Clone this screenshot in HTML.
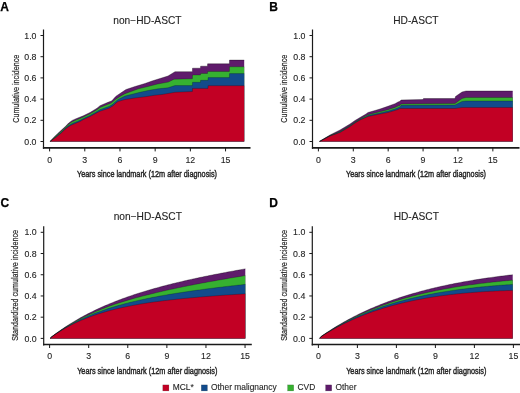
<!DOCTYPE html><html><head><meta charset="utf-8"><style>html,body{margin:0;padding:0;background:#fff;}svg{display:block;will-change:transform;}text{font-family:"Liberation Sans", sans-serif;}.tk{stroke:#333;stroke-width:0.12px;}.lb{stroke:#222;stroke-width:0.42px;}.ly{stroke:#333;stroke-width:0.22px;}.lt{stroke:#000;stroke-width:0.25px;}</style></head><body>
<svg width="520" height="393" viewBox="0 0 520 393">
<rect width="520" height="393" fill="#fff"/>
<path d="M50,141.5 L50,141.5 L54.4,136.8 L58,133.2 L61.5,130 L65.1,126.8 L68.7,123 L72.2,120.4 L76,118.7 L83.3,115.8 L90,112.5 L97,108.2 L100,105.7 L108,102.3 L111.5,101 L113,99.5 L114.5,97.8 L116,96.2 L120,93.5 L126,89.5 L135,86.5 L145,83.5 L152,81 L160,78.5 L168,76 L175,71.7 L192.4,71.7 L192.5,68.2 L200.5,68.2 L200.6,66.2 L207.5,66.2 L207.6,63.8 L229.4,63.8 L229.5,60.1 L244.2,60.1 L244.2,141.5 Z" fill="#5f1b6b"/>
<path d="M50,141.5 L50,141.5 L54.4,137.29 L56,135.84 L58,133.97 L60,132.21 L61.5,130.86 L62.5,129.97 L65,127.66 L65.1,127.58 L67.7,125.06 L68.7,124.16 L71,122.57 L72.2,121.8 L74.6,120.73 L76,120.12 L80,118.52 L83.3,117.02 L90,113.78 L97,109.64 L100,107.46 L108,104.29 L109,103.94 L111.5,102.82 L113,101.52 L115.4,99.4 L120,96.5 L125,93.7 L138.5,88.8 L148,86.5 L157.7,84 L168.3,82.1 L174,79.2 L192.4,78.8 L192.5,75 L200.5,75 L200.6,73.5 L207.5,73.5 L207.6,71.5 L229.4,71.5 L229.5,66.8 L244.2,66.8 L244.2,141.5 Z" fill="#36b130"/>
<path d="M50,141.5 L50,141.5 L54.4,137.91 L56,136.64 L58,134.93 L60,133.26 L61.5,131.93 L62.5,131.05 L65,128.62 L65.1,128.54 L67.7,126.32 L68.7,125.61 L71,124.18 L72.2,123.54 L74.6,122.48 L76,121.89 L80,120.27 L83.3,118.54 L90,115.38 L97,111.44 L100,109.66 L108,106.79 L109,106.44 L111.5,105.1 L113,104.04 L114,103 L118,99.5 L125,96 L140,92.3 L148,90.5 L158,88.8 L168,87.8 L175,85.5 L192.4,85.6 L192.5,82.3 L200.5,82.3 L200.6,80.3 L208,80.3 L208.1,77.6 L229.4,77.6 L229.5,73.6 L244.2,73.6 L244.2,141.5 Z" fill="#124b8b"/>
<path d="M50,141.5 L50,141.5 L56,137.2 L60,134 L62.5,131.8 L65,129.3 L67.7,127.2 L71,125.3 L74.6,123.7 L80,121.5 L83.3,119.6 L90,116.5 L97,112.7 L100,111.2 L109,108.2 L113,105.8 L116,103 L118,101.5 L125,99.5 L135,98 L145,96.8 L155,95.2 L162,94.5 L175,92.3 L192.4,91.5 L192.5,88.4 L208,88.4 L208.1,85.7 L244.2,85.7 L244.2,141.5 Z" fill="#c20024"/>
<path d="M50,141.5 L54.4,136.8 L58,133.2 L61.5,130 L65.1,126.8 L68.7,123 L72.2,120.4 L76,118.7 L83.3,115.8 L90,112.5 L97,108.2 L100,105.7 L108,102.3 L111.5,101 L113,99.5 L114.5,97.8 L116,96.2 L120,93.5 L126,89.5 L135,86.5 L145,83.5 L152,81 L160,78.5 L168,76 L175,71.7 L192.4,71.7 L192.5,68.2 L200.5,68.2 L200.6,66.2 L207.5,66.2 L207.6,63.8 L229.4,63.8 L229.5,60.1 L244.2,60.1" fill="none" stroke="#000" stroke-opacity="0.5" stroke-width="0.65"/>
<path d="M50,141.5 L54.4,137.29 L56,135.84 L58,133.97 L60,132.21 L61.5,130.86 L62.5,129.97 L65,127.66 L65.1,127.58 L67.7,125.06 L68.7,124.16 L71,122.57 L72.2,121.8 L74.6,120.73 L76,120.12 L80,118.52 L83.3,117.02 L90,113.78 L97,109.64 L100,107.46 L108,104.29 L109,103.94 L111.5,102.82 L113,101.52 L115.4,99.4 L120,96.5 L125,93.7 L138.5,88.8 L148,86.5 L157.7,84 L168.3,82.1 L174,79.2 L192.4,78.8 L192.5,75 L200.5,75 L200.6,73.5 L207.5,73.5 L207.6,71.5 L229.4,71.5 L229.5,66.8 L244.2,66.8" fill="none" stroke="#000" stroke-opacity="0.35" stroke-width="0.65"/>
<path d="M50,141.5 L54.4,137.91 L56,136.64 L58,134.93 L60,133.26 L61.5,131.93 L62.5,131.05 L65,128.62 L65.1,128.54 L67.7,126.32 L68.7,125.61 L71,124.18 L72.2,123.54 L74.6,122.48 L76,121.89 L80,120.27 L83.3,118.54 L90,115.38 L97,111.44 L100,109.66 L108,106.79 L109,106.44 L111.5,105.1 L113,104.04 L114,103 L118,99.5 L125,96 L140,92.3 L148,90.5 L158,88.8 L168,87.8 L175,85.5 L192.4,85.6 L192.5,82.3 L200.5,82.3 L200.6,80.3 L208,80.3 L208.1,77.6 L229.4,77.6 L229.5,73.6 L244.2,73.6" fill="none" stroke="#000" stroke-opacity="0.35" stroke-width="0.65"/>
<path d="M50,141.5 L56,137.2 L60,134 L62.5,131.8 L65,129.3 L67.7,127.2 L71,125.3 L74.6,123.7 L80,121.5 L83.3,119.6 L90,116.5 L97,112.7 L100,111.2 L109,108.2 L113,105.8 L116,103 L118,101.5 L125,99.5 L135,98 L145,96.8 L155,95.2 L162,94.5 L175,92.3 L192.4,91.5 L192.5,88.4 L208,88.4 L208.1,85.7 L244.2,85.7" fill="none" stroke="#000" stroke-opacity="0.35" stroke-width="0.65"/>
<path d="M43.5,29.5 V148.8" fill="none" stroke="#1a1a1a" stroke-width="1.2"/>
<path d="M42.9,147.9 H250.5" fill="none" stroke="#1a1a1a" stroke-width="1.8"/>
<path d="M40.5,141.5 H43.5" stroke="#1a1a1a" stroke-width="1"/>
<text class="tk" x="36.5" y="144.6" font-size="8.8" fill="#222" text-anchor="end">0.0</text>
<path d="M40.5,120.3 H43.5" stroke="#1a1a1a" stroke-width="1"/>
<text class="tk" x="36.5" y="123.4" font-size="8.8" fill="#222" text-anchor="end">0.2</text>
<path d="M40.5,99.1 H43.5" stroke="#1a1a1a" stroke-width="1"/>
<text class="tk" x="36.5" y="102.2" font-size="8.8" fill="#222" text-anchor="end">0.4</text>
<path d="M40.5,77.9 H43.5" stroke="#1a1a1a" stroke-width="1"/>
<text class="tk" x="36.5" y="81" font-size="8.8" fill="#222" text-anchor="end">0.6</text>
<path d="M40.5,56.7 H43.5" stroke="#1a1a1a" stroke-width="1"/>
<text class="tk" x="36.5" y="59.8" font-size="8.8" fill="#222" text-anchor="end">0.8</text>
<path d="M40.5,35.5 H43.5" stroke="#1a1a1a" stroke-width="1"/>
<text class="tk" x="36.5" y="38.6" font-size="8.8" fill="#222" text-anchor="end">1.0</text>
<path d="M49.6,147.9 V151.4" stroke="#1a1a1a" stroke-width="1"/>
<text class="tk" x="49.6" y="162.6" font-size="8.8" fill="#222" text-anchor="middle">0</text>
<path d="M84.79,147.9 V151.4" stroke="#1a1a1a" stroke-width="1"/>
<text class="tk" x="84.79" y="162.6" font-size="8.8" fill="#222" text-anchor="middle">3</text>
<path d="M119.98,147.9 V151.4" stroke="#1a1a1a" stroke-width="1"/>
<text class="tk" x="119.98" y="162.6" font-size="8.8" fill="#222" text-anchor="middle">6</text>
<path d="M155.17,147.9 V151.4" stroke="#1a1a1a" stroke-width="1"/>
<text class="tk" x="155.17" y="162.6" font-size="8.8" fill="#222" text-anchor="middle">9</text>
<path d="M190.36,147.9 V151.4" stroke="#1a1a1a" stroke-width="1"/>
<text class="tk" x="190.36" y="162.6" font-size="8.8" fill="#222" text-anchor="middle">12</text>
<path d="M225.55,147.9 V151.4" stroke="#1a1a1a" stroke-width="1"/>
<text class="tk" x="225.55" y="162.6" font-size="8.8" fill="#222" text-anchor="middle">15</text>
<text class="tk" x="147.4" y="23.6" font-size="10.2" fill="#222" text-anchor="middle">non−HD-ASCT</text>
<text class="lt" x="0.3" y="10.6" font-size="12" font-weight="bold" fill="#000">A</text>
<text x="147" y="176.8" font-size="9.8" fill="#222" class="lb" text-anchor="middle" textLength="140" lengthAdjust="spacingAndGlyphs">Years since landmark (12m after diagnosis)</text>
<text transform="translate(18.6,88.75) rotate(-90)" x="0" y="0" font-size="9.8" fill="#222" class="ly" text-anchor="middle" textLength="68" lengthAdjust="spacingAndGlyphs">Cumulative incidence</text>
<path d="M319.3,141.5 L319.3,141.5 L322,139.8 L330,135 L340,130 L350,124 L355,120.5 L360,117.5 L366,114 L368,112.5 L375,110.5 L380,109 L385,107.3 L390,105.5 L395,103.7 L398,102 L400,101.2 L401,100 L423,99.5 L423.5,98.5 L455,98.5 L455.5,96.5 L462,92 L466,91 L512.7,91 L512.7,141.5 Z" fill="#5f1b6b"/>
<path d="M319.3,141.5 L319.3,141.5 L322,140.02 L330,135.55 L340,131.38 L350,125.38 L355,121.88 L360,118.88 L366,115.86 L368,114.7 L375,113 L380,111.75 L385,110.47 L388,109.67 L390,109.02 L395,107.39 L398,106.12 L400,105.22 L401,104 L455,103.5 L462,98.5 L466,97.5 L512.7,97.5 L512.7,141.5 Z" fill="#36b130"/>
<path d="M319.3,141.5 L319.3,141.5 L322,140.11 L330,135.78 L340,131.95 L350,125.95 L355,122.45 L360,119.45 L366,116.63 L368,115.62 L375,114.04 L380,112.9 L385,111.79 L388,111.12 L390,110.49 L395,108.93 L398,107.85 L400,106.89 L401,105.3 L455,105 L462,101.5 L466,101 L512.7,101 L512.7,141.5 Z" fill="#124b8b"/>
<path d="M319.3,141.5 L319.3,141.5 L322,140.2 L330,136 L340,132.5 L350,126.5 L355,123 L360,120 L368,116.5 L380,114 L388,112.5 L398,109.5 L400,108.5 L455,108.5 L462,107.5 L512.7,107.5 L512.7,141.5 Z" fill="#c20024"/>
<path d="M319.3,141.5 L322,139.8 L330,135 L340,130 L350,124 L355,120.5 L360,117.5 L366,114 L368,112.5 L375,110.5 L380,109 L385,107.3 L390,105.5 L395,103.7 L398,102 L400,101.2 L401,100 L423,99.5 L423.5,98.5 L455,98.5 L455.5,96.5 L462,92 L466,91 L512.7,91" fill="none" stroke="#000" stroke-opacity="0.5" stroke-width="0.65"/>
<path d="M319.3,141.5 L322,140.02 L330,135.55 L340,131.38 L350,125.38 L355,121.88 L360,118.88 L366,115.86 L368,114.7 L375,113 L380,111.75 L385,110.47 L388,109.67 L390,109.02 L395,107.39 L398,106.12 L400,105.22 L401,104 L455,103.5 L462,98.5 L466,97.5 L512.7,97.5" fill="none" stroke="#000" stroke-opacity="0.35" stroke-width="0.65"/>
<path d="M319.3,141.5 L322,140.11 L330,135.78 L340,131.95 L350,125.95 L355,122.45 L360,119.45 L366,116.63 L368,115.62 L375,114.04 L380,112.9 L385,111.79 L388,111.12 L390,110.49 L395,108.93 L398,107.85 L400,106.89 L401,105.3 L455,105 L462,101.5 L466,101 L512.7,101" fill="none" stroke="#000" stroke-opacity="0.35" stroke-width="0.65"/>
<path d="M319.3,141.5 L322,140.2 L330,136 L340,132.5 L350,126.5 L355,123 L360,120 L368,116.5 L380,114 L388,112.5 L398,109.5 L400,108.5 L455,108.5 L462,107.5 L512.7,107.5" fill="none" stroke="#000" stroke-opacity="0.35" stroke-width="0.65"/>
<path d="M312.5,29.5 V148.8" fill="none" stroke="#1a1a1a" stroke-width="1.2"/>
<path d="M311.9,147.9 H519.5" fill="none" stroke="#1a1a1a" stroke-width="1.8"/>
<path d="M309.5,141.5 H312.5" stroke="#1a1a1a" stroke-width="1"/>
<text class="tk" x="305.5" y="144.6" font-size="8.8" fill="#222" text-anchor="end">0.0</text>
<path d="M309.5,120.3 H312.5" stroke="#1a1a1a" stroke-width="1"/>
<text class="tk" x="305.5" y="123.4" font-size="8.8" fill="#222" text-anchor="end">0.2</text>
<path d="M309.5,99.1 H312.5" stroke="#1a1a1a" stroke-width="1"/>
<text class="tk" x="305.5" y="102.2" font-size="8.8" fill="#222" text-anchor="end">0.4</text>
<path d="M309.5,77.9 H312.5" stroke="#1a1a1a" stroke-width="1"/>
<text class="tk" x="305.5" y="81" font-size="8.8" fill="#222" text-anchor="end">0.6</text>
<path d="M309.5,56.7 H312.5" stroke="#1a1a1a" stroke-width="1"/>
<text class="tk" x="305.5" y="59.8" font-size="8.8" fill="#222" text-anchor="end">0.8</text>
<path d="M309.5,35.5 H312.5" stroke="#1a1a1a" stroke-width="1"/>
<text class="tk" x="305.5" y="38.6" font-size="8.8" fill="#222" text-anchor="end">1.0</text>
<path d="M318.4,147.9 V151.4" stroke="#1a1a1a" stroke-width="1"/>
<text class="tk" x="318.4" y="162.6" font-size="8.8" fill="#222" text-anchor="middle">0</text>
<path d="M353.29,147.9 V151.4" stroke="#1a1a1a" stroke-width="1"/>
<text class="tk" x="353.29" y="162.6" font-size="8.8" fill="#222" text-anchor="middle">3</text>
<path d="M388.18,147.9 V151.4" stroke="#1a1a1a" stroke-width="1"/>
<text class="tk" x="388.18" y="162.6" font-size="8.8" fill="#222" text-anchor="middle">6</text>
<path d="M423.07,147.9 V151.4" stroke="#1a1a1a" stroke-width="1"/>
<text class="tk" x="423.07" y="162.6" font-size="8.8" fill="#222" text-anchor="middle">9</text>
<path d="M457.96,147.9 V151.4" stroke="#1a1a1a" stroke-width="1"/>
<text class="tk" x="457.96" y="162.6" font-size="8.8" fill="#222" text-anchor="middle">12</text>
<path d="M492.85,147.9 V151.4" stroke="#1a1a1a" stroke-width="1"/>
<text class="tk" x="492.85" y="162.6" font-size="8.8" fill="#222" text-anchor="middle">15</text>
<text class="tk" x="415.9" y="23.8" font-size="10.2" fill="#222" text-anchor="middle">HD-ASCT</text>
<text class="lt" x="269.2" y="10.5" font-size="12" font-weight="bold" fill="#000">B</text>
<text x="416" y="176.8" font-size="9.8" fill="#222" class="lb" text-anchor="middle" textLength="140" lengthAdjust="spacingAndGlyphs">Years since landmark (12m after diagnosis)</text>
<text transform="translate(287.1,88.75) rotate(-90)" x="0" y="0" font-size="9.8" fill="#222" class="ly" text-anchor="middle" textLength="68" lengthAdjust="spacingAndGlyphs">Cumulative incidence</text>
<path d="M50,338.4 L50,338.4 L51.64,336.8 L53.28,335.53 L54.92,334.3 L56.56,333.08 L58.21,331.89 L59.85,330.72 L61.49,329.58 L63.13,328.45 L64.77,327.35 L66.41,326.27 L68.05,325.2 L69.69,324.16 L71.34,323.14 L72.98,322.13 L74.62,321.15 L76.26,320.18 L77.9,319.23 L79.54,318.29 L81.18,317.37 L82.82,316.47 L84.46,315.59 L86.11,314.71 L87.75,313.86 L89.39,313.02 L91.03,312.19 L92.67,311.38 L94.31,310.58 L95.95,309.8 L97.59,309.03 L99.24,308.27 L100.88,307.52 L102.52,306.79 L104.16,306.07 L105.8,305.36 L107.44,304.66 L109.08,303.97 L110.72,303.29 L112.36,302.63 L114.01,301.97 L115.65,301.33 L117.29,300.69 L118.93,300.06 L120.57,299.45 L122.21,298.84 L123.85,298.24 L125.49,297.65 L127.14,297.07 L128.78,296.5 L130.42,295.94 L132.06,295.38 L133.7,294.83 L135.34,294.29 L136.98,293.76 L138.62,293.23 L140.26,292.71 L141.91,292.2 L143.55,291.69 L145.19,291.2 L146.83,290.7 L148.47,290.22 L150.11,289.74 L151.75,289.26 L153.39,288.8 L155.04,288.34 L156.68,287.88 L158.32,287.43 L159.96,286.98 L161.6,286.54 L163.24,286.11 L164.88,285.68 L166.52,285.25 L168.16,284.83 L169.81,284.42 L171.45,284 L173.09,283.6 L174.73,283.2 L176.37,282.8 L178.01,282.4 L179.65,282.01 L181.29,281.63 L182.94,281.25 L184.58,280.87 L186.22,280.49 L187.86,280.12 L189.5,279.75 L191.14,279.39 L192.78,279.03 L194.42,278.67 L196.06,278.32 L197.71,277.97 L199.35,277.62 L200.99,277.27 L202.63,276.93 L204.27,276.59 L205.91,276.25 L207.55,275.92 L209.19,275.59 L210.84,275.26 L212.48,274.93 L214.12,274.61 L215.76,274.29 L217.4,273.97 L219.04,273.65 L220.68,273.34 L222.32,273.02 L223.96,272.71 L225.61,272.41 L227.25,272.1 L228.89,271.8 L230.53,271.49 L232.17,271.19 L233.81,270.9 L235.45,270.6 L237.09,270.3 L238.74,270.01 L240.38,269.72 L242.02,269.43 L243.66,269.14 L245.3,268.86 L245.3,338.4 Z" fill="#5f1b6b"/>
<path d="M50,338.4 L50,338.4 L51.64,336.83 L53.28,335.6 L54.92,334.4 L56.56,333.23 L58.21,332.08 L59.85,330.96 L61.49,329.86 L63.13,328.79 L64.77,327.74 L66.41,326.71 L68.05,325.71 L69.69,324.73 L71.34,323.76 L72.98,322.82 L74.62,321.9 L76.26,321 L77.9,320.12 L79.54,319.25 L81.18,318.41 L82.82,317.58 L84.46,316.77 L86.11,315.97 L87.75,315.19 L89.39,314.43 L91.03,313.68 L92.67,312.95 L94.31,312.23 L95.95,311.52 L97.59,310.83 L99.24,310.16 L100.88,309.49 L102.52,308.84 L104.16,308.2 L105.8,307.58 L107.44,306.96 L109.08,306.36 L110.72,305.76 L112.36,305.18 L114.01,304.61 L115.65,304.05 L117.29,303.5 L118.93,302.96 L120.57,302.43 L122.21,301.9 L123.85,301.39 L125.49,300.89 L127.14,300.39 L128.78,299.9 L130.42,299.42 L132.06,298.95 L133.7,298.49 L135.34,298.03 L136.98,297.58 L138.62,297.14 L140.26,296.7 L141.91,296.28 L143.55,295.85 L145.19,295.44 L146.83,295.03 L148.47,294.63 L150.11,294.23 L151.75,293.82 L153.39,293.41 L155.04,293.01 L156.68,292.62 L158.32,292.23 L159.96,291.84 L161.6,291.46 L163.24,291.08 L164.88,290.71 L166.52,290.34 L168.16,289.98 L169.81,289.61 L171.45,289.26 L173.09,288.9 L174.73,288.55 L176.37,288.2 L178.01,287.86 L179.65,287.52 L181.29,287.18 L182.94,286.84 L184.58,286.51 L186.22,286.18 L187.86,285.85 L189.5,285.53 L191.14,285.2 L192.78,284.88 L194.42,284.57 L196.06,284.25 L197.71,283.94 L199.35,283.63 L200.99,283.32 L202.63,283.01 L204.27,282.71 L205.91,282.41 L207.55,282.11 L209.19,281.81 L210.84,281.51 L212.48,281.22 L214.12,280.92 L215.76,280.63 L217.4,280.34 L219.04,280.05 L220.68,279.76 L222.32,279.48 L223.96,279.19 L225.61,278.91 L227.25,278.63 L228.89,278.34 L230.53,278.07 L232.17,277.79 L233.81,277.51 L235.45,277.23 L237.09,276.96 L238.74,276.68 L240.38,276.41 L242.02,276.14 L243.66,275.87 L245.3,275.6 L245.3,338.4 Z" fill="#36b130"/>
<path d="M50,338.4 L50,338.4 L51.64,336.86 L53.28,335.66 L54.92,334.49 L56.56,333.35 L58.21,332.24 L59.85,331.16 L61.49,330.1 L63.13,329.07 L64.77,328.06 L66.41,327.08 L68.05,326.13 L69.69,325.19 L71.34,324.28 L72.98,323.4 L74.62,322.53 L76.26,321.68 L77.9,320.86 L79.54,320.05 L81.18,319.26 L82.82,318.5 L84.46,317.75 L86.11,317.01 L87.75,316.3 L89.39,315.6 L91.03,314.91 L92.67,314.25 L94.31,313.59 L95.95,312.96 L97.59,312.33 L99.24,311.72 L100.88,311.13 L102.52,310.54 L104.16,309.97 L105.8,309.41 L107.44,308.87 L109.08,308.33 L110.72,307.81 L112.36,307.3 L114.01,306.8 L115.65,306.31 L117.29,305.83 L118.93,305.35 L120.57,304.89 L122.21,304.44 L123.85,304 L125.49,303.56 L127.14,303.14 L128.78,302.72 L130.42,302.31 L132.06,301.91 L133.7,301.52 L135.34,301.13 L136.98,300.75 L138.62,300.38 L140.26,300.01 L141.91,299.65 L143.55,299.3 L145.19,298.95 L146.83,298.61 L148.47,298.28 L150.11,297.95 L151.75,297.62 L153.39,297.3 L155.04,296.98 L156.68,296.67 L158.32,296.36 L159.96,296.06 L161.6,295.76 L163.24,295.47 L164.88,295.18 L166.52,294.89 L168.16,294.61 L169.81,294.33 L171.45,294.06 L173.09,293.79 L174.73,293.52 L176.37,293.26 L178.01,293 L179.65,292.74 L181.29,292.49 L182.94,292.24 L184.58,291.99 L186.22,291.75 L187.86,291.5 L189.5,291.27 L191.14,291.03 L192.78,290.8 L194.42,290.57 L196.06,290.34 L197.71,290.11 L199.35,289.89 L200.99,289.67 L202.63,289.45 L204.27,289.23 L205.91,289.02 L207.55,288.8 L209.19,288.59 L210.84,288.38 L212.48,288.18 L214.12,287.97 L215.76,287.77 L217.4,287.56 L219.04,287.36 L220.68,287.16 L222.32,286.97 L223.96,286.77 L225.61,286.58 L227.25,286.38 L228.89,286.19 L230.53,286 L232.17,285.81 L233.81,285.63 L235.45,285.44 L237.09,285.25 L238.74,285.07 L240.38,284.89 L242.02,284.7 L243.66,284.52 L245.3,284.35 L245.3,338.4 Z" fill="#124b8b"/>
<path d="M50,338.4 L50,338.4 L51.64,336.9 L53.28,335.74 L54.92,334.6 L56.56,333.5 L58.21,332.44 L59.85,331.4 L61.49,330.39 L63.13,329.41 L64.77,328.46 L66.41,327.54 L68.05,326.65 L69.69,325.77 L71.34,324.93 L72.98,324.11 L74.62,323.31 L76.26,322.53 L77.9,321.77 L79.54,321.04 L81.18,320.33 L82.82,319.63 L84.46,318.96 L86.11,318.3 L87.75,317.67 L89.39,317.05 L91.03,316.44 L92.67,315.86 L94.31,315.29 L95.95,314.73 L97.59,314.19 L99.24,313.66 L100.88,313.15 L102.52,312.65 L104.16,312.17 L105.8,311.7 L107.44,311.24 L109.08,310.79 L110.72,310.35 L112.36,309.93 L114.01,309.51 L115.65,309.11 L117.29,308.71 L118.93,308.33 L120.57,307.96 L122.21,307.59 L123.85,307.24 L125.49,306.89 L127.14,306.55 L128.78,306.22 L130.42,305.9 L132.06,305.58 L133.7,305.28 L135.34,304.98 L136.98,304.68 L138.62,304.4 L140.26,304.12 L141.91,303.84 L143.55,303.58 L145.19,303.32 L146.83,303.06 L148.47,302.81 L150.11,302.57 L151.75,302.33 L153.39,302.1 L155.04,301.87 L156.68,301.64 L158.32,301.42 L159.96,301.21 L161.6,301 L163.24,300.79 L164.88,300.59 L166.52,300.39 L168.16,300.2 L169.81,300.01 L171.45,299.82 L173.09,299.64 L174.73,299.46 L176.37,299.28 L178.01,299.11 L179.65,298.94 L181.29,298.77 L182.94,298.61 L184.58,298.45 L186.22,298.29 L187.86,298.13 L189.5,297.98 L191.14,297.83 L192.78,297.68 L194.42,297.53 L196.06,297.39 L197.71,297.25 L199.35,297.11 L200.99,296.97 L202.63,296.83 L204.27,296.7 L205.91,296.57 L207.55,296.44 L209.19,296.31 L210.84,296.18 L212.48,296.06 L214.12,295.94 L215.76,295.81 L217.4,295.69 L219.04,295.57 L220.68,295.46 L222.32,295.34 L223.96,295.23 L225.61,295.11 L227.25,295 L228.89,294.89 L230.53,294.78 L232.17,294.67 L233.81,294.56 L235.45,294.46 L237.09,294.35 L238.74,294.25 L240.38,294.14 L242.02,294.04 L243.66,293.94 L245.3,293.84 L245.3,338.4 Z" fill="#c20024"/>
<path d="M50,338.4 L51.64,336.8 L53.28,335.53 L54.92,334.3 L56.56,333.08 L58.21,331.89 L59.85,330.72 L61.49,329.58 L63.13,328.45 L64.77,327.35 L66.41,326.27 L68.05,325.2 L69.69,324.16 L71.34,323.14 L72.98,322.13 L74.62,321.15 L76.26,320.18 L77.9,319.23 L79.54,318.29 L81.18,317.37 L82.82,316.47 L84.46,315.59 L86.11,314.71 L87.75,313.86 L89.39,313.02 L91.03,312.19 L92.67,311.38 L94.31,310.58 L95.95,309.8 L97.59,309.03 L99.24,308.27 L100.88,307.52 L102.52,306.79 L104.16,306.07 L105.8,305.36 L107.44,304.66 L109.08,303.97 L110.72,303.29 L112.36,302.63 L114.01,301.97 L115.65,301.33 L117.29,300.69 L118.93,300.06 L120.57,299.45 L122.21,298.84 L123.85,298.24 L125.49,297.65 L127.14,297.07 L128.78,296.5 L130.42,295.94 L132.06,295.38 L133.7,294.83 L135.34,294.29 L136.98,293.76 L138.62,293.23 L140.26,292.71 L141.91,292.2 L143.55,291.69 L145.19,291.2 L146.83,290.7 L148.47,290.22 L150.11,289.74 L151.75,289.26 L153.39,288.8 L155.04,288.34 L156.68,287.88 L158.32,287.43 L159.96,286.98 L161.6,286.54 L163.24,286.11 L164.88,285.68 L166.52,285.25 L168.16,284.83 L169.81,284.42 L171.45,284 L173.09,283.6 L174.73,283.2 L176.37,282.8 L178.01,282.4 L179.65,282.01 L181.29,281.63 L182.94,281.25 L184.58,280.87 L186.22,280.49 L187.86,280.12 L189.5,279.75 L191.14,279.39 L192.78,279.03 L194.42,278.67 L196.06,278.32 L197.71,277.97 L199.35,277.62 L200.99,277.27 L202.63,276.93 L204.27,276.59 L205.91,276.25 L207.55,275.92 L209.19,275.59 L210.84,275.26 L212.48,274.93 L214.12,274.61 L215.76,274.29 L217.4,273.97 L219.04,273.65 L220.68,273.34 L222.32,273.02 L223.96,272.71 L225.61,272.41 L227.25,272.1 L228.89,271.8 L230.53,271.49 L232.17,271.19 L233.81,270.9 L235.45,270.6 L237.09,270.3 L238.74,270.01 L240.38,269.72 L242.02,269.43 L243.66,269.14 L245.3,268.86" fill="none" stroke="#000" stroke-opacity="0.5" stroke-width="0.65"/>
<path d="M50,338.4 L51.64,336.83 L53.28,335.6 L54.92,334.4 L56.56,333.23 L58.21,332.08 L59.85,330.96 L61.49,329.86 L63.13,328.79 L64.77,327.74 L66.41,326.71 L68.05,325.71 L69.69,324.73 L71.34,323.76 L72.98,322.82 L74.62,321.9 L76.26,321 L77.9,320.12 L79.54,319.25 L81.18,318.41 L82.82,317.58 L84.46,316.77 L86.11,315.97 L87.75,315.19 L89.39,314.43 L91.03,313.68 L92.67,312.95 L94.31,312.23 L95.95,311.52 L97.59,310.83 L99.24,310.16 L100.88,309.49 L102.52,308.84 L104.16,308.2 L105.8,307.58 L107.44,306.96 L109.08,306.36 L110.72,305.76 L112.36,305.18 L114.01,304.61 L115.65,304.05 L117.29,303.5 L118.93,302.96 L120.57,302.43 L122.21,301.9 L123.85,301.39 L125.49,300.89 L127.14,300.39 L128.78,299.9 L130.42,299.42 L132.06,298.95 L133.7,298.49 L135.34,298.03 L136.98,297.58 L138.62,297.14 L140.26,296.7 L141.91,296.28 L143.55,295.85 L145.19,295.44 L146.83,295.03 L148.47,294.63 L150.11,294.23 L151.75,293.82 L153.39,293.41 L155.04,293.01 L156.68,292.62 L158.32,292.23 L159.96,291.84 L161.6,291.46 L163.24,291.08 L164.88,290.71 L166.52,290.34 L168.16,289.98 L169.81,289.61 L171.45,289.26 L173.09,288.9 L174.73,288.55 L176.37,288.2 L178.01,287.86 L179.65,287.52 L181.29,287.18 L182.94,286.84 L184.58,286.51 L186.22,286.18 L187.86,285.85 L189.5,285.53 L191.14,285.2 L192.78,284.88 L194.42,284.57 L196.06,284.25 L197.71,283.94 L199.35,283.63 L200.99,283.32 L202.63,283.01 L204.27,282.71 L205.91,282.41 L207.55,282.11 L209.19,281.81 L210.84,281.51 L212.48,281.22 L214.12,280.92 L215.76,280.63 L217.4,280.34 L219.04,280.05 L220.68,279.76 L222.32,279.48 L223.96,279.19 L225.61,278.91 L227.25,278.63 L228.89,278.34 L230.53,278.07 L232.17,277.79 L233.81,277.51 L235.45,277.23 L237.09,276.96 L238.74,276.68 L240.38,276.41 L242.02,276.14 L243.66,275.87 L245.3,275.6" fill="none" stroke="#000" stroke-opacity="0.35" stroke-width="0.65"/>
<path d="M50,338.4 L51.64,336.86 L53.28,335.66 L54.92,334.49 L56.56,333.35 L58.21,332.24 L59.85,331.16 L61.49,330.1 L63.13,329.07 L64.77,328.06 L66.41,327.08 L68.05,326.13 L69.69,325.19 L71.34,324.28 L72.98,323.4 L74.62,322.53 L76.26,321.68 L77.9,320.86 L79.54,320.05 L81.18,319.26 L82.82,318.5 L84.46,317.75 L86.11,317.01 L87.75,316.3 L89.39,315.6 L91.03,314.91 L92.67,314.25 L94.31,313.59 L95.95,312.96 L97.59,312.33 L99.24,311.72 L100.88,311.13 L102.52,310.54 L104.16,309.97 L105.8,309.41 L107.44,308.87 L109.08,308.33 L110.72,307.81 L112.36,307.3 L114.01,306.8 L115.65,306.31 L117.29,305.83 L118.93,305.35 L120.57,304.89 L122.21,304.44 L123.85,304 L125.49,303.56 L127.14,303.14 L128.78,302.72 L130.42,302.31 L132.06,301.91 L133.7,301.52 L135.34,301.13 L136.98,300.75 L138.62,300.38 L140.26,300.01 L141.91,299.65 L143.55,299.3 L145.19,298.95 L146.83,298.61 L148.47,298.28 L150.11,297.95 L151.75,297.62 L153.39,297.3 L155.04,296.98 L156.68,296.67 L158.32,296.36 L159.96,296.06 L161.6,295.76 L163.24,295.47 L164.88,295.18 L166.52,294.89 L168.16,294.61 L169.81,294.33 L171.45,294.06 L173.09,293.79 L174.73,293.52 L176.37,293.26 L178.01,293 L179.65,292.74 L181.29,292.49 L182.94,292.24 L184.58,291.99 L186.22,291.75 L187.86,291.5 L189.5,291.27 L191.14,291.03 L192.78,290.8 L194.42,290.57 L196.06,290.34 L197.71,290.11 L199.35,289.89 L200.99,289.67 L202.63,289.45 L204.27,289.23 L205.91,289.02 L207.55,288.8 L209.19,288.59 L210.84,288.38 L212.48,288.18 L214.12,287.97 L215.76,287.77 L217.4,287.56 L219.04,287.36 L220.68,287.16 L222.32,286.97 L223.96,286.77 L225.61,286.58 L227.25,286.38 L228.89,286.19 L230.53,286 L232.17,285.81 L233.81,285.63 L235.45,285.44 L237.09,285.25 L238.74,285.07 L240.38,284.89 L242.02,284.7 L243.66,284.52 L245.3,284.35" fill="none" stroke="#000" stroke-opacity="0.35" stroke-width="0.65"/>
<path d="M50,338.4 L51.64,336.9 L53.28,335.74 L54.92,334.6 L56.56,333.5 L58.21,332.44 L59.85,331.4 L61.49,330.39 L63.13,329.41 L64.77,328.46 L66.41,327.54 L68.05,326.65 L69.69,325.77 L71.34,324.93 L72.98,324.11 L74.62,323.31 L76.26,322.53 L77.9,321.77 L79.54,321.04 L81.18,320.33 L82.82,319.63 L84.46,318.96 L86.11,318.3 L87.75,317.67 L89.39,317.05 L91.03,316.44 L92.67,315.86 L94.31,315.29 L95.95,314.73 L97.59,314.19 L99.24,313.66 L100.88,313.15 L102.52,312.65 L104.16,312.17 L105.8,311.7 L107.44,311.24 L109.08,310.79 L110.72,310.35 L112.36,309.93 L114.01,309.51 L115.65,309.11 L117.29,308.71 L118.93,308.33 L120.57,307.96 L122.21,307.59 L123.85,307.24 L125.49,306.89 L127.14,306.55 L128.78,306.22 L130.42,305.9 L132.06,305.58 L133.7,305.28 L135.34,304.98 L136.98,304.68 L138.62,304.4 L140.26,304.12 L141.91,303.84 L143.55,303.58 L145.19,303.32 L146.83,303.06 L148.47,302.81 L150.11,302.57 L151.75,302.33 L153.39,302.1 L155.04,301.87 L156.68,301.64 L158.32,301.42 L159.96,301.21 L161.6,301 L163.24,300.79 L164.88,300.59 L166.52,300.39 L168.16,300.2 L169.81,300.01 L171.45,299.82 L173.09,299.64 L174.73,299.46 L176.37,299.28 L178.01,299.11 L179.65,298.94 L181.29,298.77 L182.94,298.61 L184.58,298.45 L186.22,298.29 L187.86,298.13 L189.5,297.98 L191.14,297.83 L192.78,297.68 L194.42,297.53 L196.06,297.39 L197.71,297.25 L199.35,297.11 L200.99,296.97 L202.63,296.83 L204.27,296.7 L205.91,296.57 L207.55,296.44 L209.19,296.31 L210.84,296.18 L212.48,296.06 L214.12,295.94 L215.76,295.81 L217.4,295.69 L219.04,295.57 L220.68,295.46 L222.32,295.34 L223.96,295.23 L225.61,295.11 L227.25,295 L228.89,294.89 L230.53,294.78 L232.17,294.67 L233.81,294.56 L235.45,294.46 L237.09,294.35 L238.74,294.25 L240.38,294.14 L242.02,294.04 L243.66,293.94 L245.3,293.84" fill="none" stroke="#000" stroke-opacity="0.35" stroke-width="0.65"/>
<path d="M43.7,226.2 V345.4" fill="none" stroke="#1a1a1a" stroke-width="1.2"/>
<path d="M43.1,344.5 H251.8" fill="none" stroke="#1a1a1a" stroke-width="1.3"/>
<path d="M40.7,338.4 H43.7" stroke="#1a1a1a" stroke-width="1"/>
<text class="tk" x="36.7" y="341.5" font-size="8.8" fill="#222" text-anchor="end">0.0</text>
<path d="M40.7,317.18 H43.7" stroke="#1a1a1a" stroke-width="1"/>
<text class="tk" x="36.7" y="320.28" font-size="8.8" fill="#222" text-anchor="end">0.2</text>
<path d="M40.7,295.96 H43.7" stroke="#1a1a1a" stroke-width="1"/>
<text class="tk" x="36.7" y="299.06" font-size="8.8" fill="#222" text-anchor="end">0.4</text>
<path d="M40.7,274.74 H43.7" stroke="#1a1a1a" stroke-width="1"/>
<text class="tk" x="36.7" y="277.84" font-size="8.8" fill="#222" text-anchor="end">0.6</text>
<path d="M40.7,253.52 H43.7" stroke="#1a1a1a" stroke-width="1"/>
<text class="tk" x="36.7" y="256.62" font-size="8.8" fill="#222" text-anchor="end">0.8</text>
<path d="M40.7,232.3 H43.7" stroke="#1a1a1a" stroke-width="1"/>
<text class="tk" x="36.7" y="235.4" font-size="8.8" fill="#222" text-anchor="end">1.0</text>
<path d="M49.6,344.5 V348" stroke="#1a1a1a" stroke-width="1"/>
<text class="tk" x="49.6" y="359" font-size="8.8" fill="#222" text-anchor="middle">0</text>
<path d="M88.69,344.5 V348" stroke="#1a1a1a" stroke-width="1"/>
<text class="tk" x="88.69" y="359" font-size="8.8" fill="#222" text-anchor="middle">3</text>
<path d="M127.78,344.5 V348" stroke="#1a1a1a" stroke-width="1"/>
<text class="tk" x="127.78" y="359" font-size="8.8" fill="#222" text-anchor="middle">6</text>
<path d="M166.87,344.5 V348" stroke="#1a1a1a" stroke-width="1"/>
<text class="tk" x="166.87" y="359" font-size="8.8" fill="#222" text-anchor="middle">9</text>
<path d="M205.96,344.5 V348" stroke="#1a1a1a" stroke-width="1"/>
<text class="tk" x="205.96" y="359" font-size="8.8" fill="#222" text-anchor="middle">12</text>
<path d="M245.05,344.5 V348" stroke="#1a1a1a" stroke-width="1"/>
<text class="tk" x="245.05" y="359" font-size="8.8" fill="#222" text-anchor="middle">15</text>
<text class="tk" x="147.8" y="219.9" font-size="10.2" fill="#222" text-anchor="middle">non−HD-ASCT</text>
<text class="lt" x="0.5" y="207.2" font-size="12" font-weight="bold" fill="#000">C</text>
<text x="147.3" y="373.5" font-size="9.8" fill="#222" class="lb" text-anchor="middle" textLength="140.3" lengthAdjust="spacingAndGlyphs">Years since landmark (12m after diagnosis)</text>
<text transform="translate(18.4,285.4) rotate(-90)" x="0" y="0" font-size="9.8" fill="#222" class="ly" text-anchor="middle" textLength="110.7" lengthAdjust="spacingAndGlyphs">Standardized cumulative incidence</text>
<path d="M319.5,338.4 L319.5,338.4 L321.12,336.45 L322.75,335.31 L324.37,334.19 L325.99,333.09 L327.62,332.01 L329.24,330.94 L330.86,329.89 L332.49,328.86 L334.11,327.84 L335.74,326.84 L337.36,325.85 L338.98,324.88 L340.61,323.92 L342.23,322.98 L343.85,322.06 L345.48,321.15 L347.1,320.25 L348.72,319.37 L350.35,318.5 L351.97,317.64 L353.59,316.8 L355.22,315.97 L356.84,315.16 L358.46,314.35 L360.09,313.56 L361.71,312.78 L363.34,312.02 L364.96,311.26 L366.58,310.52 L368.21,309.79 L369.83,309.07 L371.45,308.36 L373.08,307.67 L374.7,306.98 L376.32,306.3 L377.95,305.64 L379.57,304.98 L381.19,304.34 L382.82,303.7 L384.44,303.08 L386.06,302.46 L387.69,301.86 L389.31,301.26 L390.94,300.68 L392.56,300.1 L394.18,299.53 L395.81,298.97 L397.43,298.42 L399.05,297.87 L400.68,297.34 L402.3,296.81 L403.92,296.3 L405.55,295.78 L407.17,295.28 L408.79,294.79 L410.42,294.3 L412.04,293.82 L413.66,293.35 L415.29,292.88 L416.91,292.43 L418.54,291.98 L420.16,291.53 L421.78,291.09 L423.41,290.66 L425.03,290.24 L426.65,289.82 L428.28,289.41 L429.9,289.01 L431.52,288.61 L433.15,288.22 L434.77,287.83 L436.39,287.45 L438.02,287.07 L439.64,286.7 L441.26,286.34 L442.89,285.98 L444.51,285.63 L446.14,285.28 L447.76,284.94 L449.38,284.6 L451.01,284.27 L452.63,283.94 L454.25,283.62 L455.88,283.3 L457.5,282.99 L459.12,282.68 L460.75,282.38 L462.37,282.08 L463.99,281.79 L465.62,281.5 L467.24,281.21 L468.86,280.93 L470.49,280.65 L472.11,280.38 L473.74,280.11 L475.36,279.85 L476.98,279.59 L478.61,279.33 L480.23,279.08 L481.85,278.83 L483.48,278.58 L485.1,278.34 L486.72,278.1 L488.35,277.86 L489.97,277.63 L491.59,277.4 L493.22,277.18 L494.84,276.96 L496.46,276.74 L498.09,276.52 L499.71,276.31 L501.34,276.1 L502.96,275.9 L504.58,275.69 L506.21,275.49 L507.83,275.29 L509.45,275.1 L511.08,274.91 L512.7,274.72 L512.7,338.4 Z" fill="#5f1b6b"/>
<path d="M319.5,338.4 L319.5,338.4 L321.12,336.51 L322.75,335.41 L324.37,334.33 L325.99,333.26 L327.62,332.22 L329.24,331.19 L330.86,330.18 L332.49,329.18 L334.11,328.2 L335.74,327.24 L337.36,326.29 L338.98,325.36 L340.61,324.45 L342.23,323.55 L343.85,322.66 L345.48,321.79 L347.1,320.93 L348.72,320.09 L350.35,319.26 L351.97,318.45 L353.59,317.65 L355.22,316.86 L356.84,316.09 L358.46,315.33 L360.09,314.58 L361.71,313.84 L363.34,313.12 L364.96,312.41 L366.58,311.71 L368.21,311.02 L369.83,310.35 L371.45,309.68 L373.08,309.03 L374.7,308.39 L376.32,307.76 L377.95,307.14 L379.57,306.53 L381.19,305.93 L382.82,305.34 L384.44,304.76 L386.06,304.19 L387.69,303.63 L389.31,303.08 L390.94,302.53 L392.56,302 L394.18,301.48 L395.81,300.96 L397.43,300.46 L399.05,299.96 L400.68,299.47 L402.3,298.99 L403.92,298.52 L405.55,298.06 L407.17,297.6 L408.79,297.16 L410.42,296.71 L412.04,296.28 L413.66,295.86 L415.29,295.44 L416.91,295.03 L418.54,294.62 L420.16,294.23 L421.78,293.84 L423.41,293.46 L425.03,293.08 L426.65,292.71 L428.28,292.35 L429.9,291.99 L431.52,291.64 L433.15,291.29 L434.77,290.96 L436.39,290.62 L438.02,290.3 L439.64,289.98 L441.26,289.66 L442.89,289.35 L444.51,289.05 L446.14,288.75 L447.76,288.45 L449.38,288.16 L451.01,287.88 L452.63,287.6 L454.25,287.33 L455.88,287.06 L457.5,286.8 L459.12,286.54 L460.75,286.28 L462.37,286.03 L463.99,285.79 L465.62,285.55 L467.24,285.31 L468.86,285.08 L470.49,284.85 L472.11,284.63 L473.74,284.41 L475.36,284.19 L476.98,283.98 L478.61,283.77 L480.23,283.57 L481.85,283.37 L483.48,283.17 L485.1,282.98 L486.72,282.79 L488.35,282.6 L489.97,282.42 L491.59,282.24 L493.22,282.07 L494.84,281.9 L496.46,281.73 L498.09,281.56 L499.71,281.4 L501.34,281.24 L502.96,281.08 L504.58,280.93 L506.21,280.78 L507.83,280.63 L509.45,280.49 L511.08,280.34 L512.7,280.21 L512.7,338.4 Z" fill="#36b130"/>
<path d="M319.5,338.4 L319.5,338.4 L321.12,336.56 L322.75,335.49 L324.37,334.43 L325.99,333.4 L327.62,332.38 L329.24,331.38 L330.86,330.4 L332.49,329.43 L334.11,328.48 L335.74,327.55 L337.36,326.63 L338.98,325.73 L340.61,324.85 L342.23,323.98 L343.85,323.12 L345.48,322.29 L347.1,321.46 L348.72,320.65 L350.35,319.86 L351.97,319.07 L353.59,318.31 L355.22,317.55 L356.84,316.81 L358.46,316.08 L360.09,315.37 L361.71,314.66 L363.34,313.97 L364.96,313.3 L366.58,312.63 L368.21,311.98 L369.83,311.33 L371.45,310.7 L373.08,310.08 L374.7,309.48 L376.32,308.88 L377.95,308.29 L379.57,307.72 L381.19,307.15 L382.82,306.6 L384.44,306.05 L386.06,305.52 L387.69,304.99 L389.31,304.47 L390.94,303.97 L392.56,303.47 L394.18,302.98 L395.81,302.5 L397.43,302.03 L399.05,301.57 L400.68,301.12 L402.3,300.68 L403.92,300.24 L405.55,299.81 L407.17,299.39 L408.79,298.98 L410.42,298.58 L412.04,298.18 L413.66,297.79 L415.29,297.41 L416.91,297.04 L418.54,296.67 L420.16,296.31 L421.78,295.96 L423.41,295.61 L425.03,295.27 L426.65,294.94 L428.28,294.61 L429.9,294.29 L431.52,293.98 L433.15,293.67 L434.77,293.37 L436.39,293.07 L438.02,292.78 L439.64,292.5 L441.26,292.22 L442.89,291.95 L444.51,291.68 L446.14,291.42 L447.76,291.16 L449.38,290.91 L451.01,290.67 L452.63,290.43 L454.25,290.19 L455.88,289.96 L457.5,289.73 L459.12,289.51 L460.75,289.3 L462.37,289.08 L463.99,288.88 L465.62,288.67 L467.24,288.47 L468.86,288.28 L470.49,288.09 L472.11,287.9 L473.74,287.72 L475.36,287.55 L476.98,287.37 L478.61,287.2 L480.23,287.04 L481.85,286.87 L483.48,286.72 L485.1,286.56 L486.72,286.41 L488.35,286.26 L489.97,286.12 L491.59,285.98 L493.22,285.84 L494.84,285.71 L496.46,285.58 L498.09,285.45 L499.71,285.32 L501.34,285.2 L502.96,285.09 L504.58,284.97 L506.21,284.86 L507.83,284.75 L509.45,284.64 L511.08,284.54 L512.7,284.44 L512.7,338.4 Z" fill="#124b8b"/>
<path d="M319.5,338.4 L319.5,338.4 L321.12,336.63 L322.75,335.59 L324.37,334.58 L325.99,333.58 L327.62,332.61 L329.24,331.65 L330.86,330.71 L332.49,329.78 L334.11,328.88 L335.74,327.99 L337.36,327.11 L338.98,326.26 L340.61,325.41 L342.23,324.59 L343.85,323.78 L345.48,322.98 L347.1,322.2 L348.72,321.44 L350.35,320.69 L351.97,319.95 L353.59,319.23 L355.22,318.52 L356.84,317.82 L358.46,317.14 L360.09,316.47 L361.71,315.82 L363.34,315.17 L364.96,314.54 L366.58,313.92 L368.21,313.32 L369.83,312.72 L371.45,312.14 L373.08,311.57 L374.7,311.01 L376.32,310.46 L377.95,309.92 L379.57,309.39 L381.19,308.88 L382.82,308.37 L384.44,307.87 L386.06,307.39 L387.69,306.91 L389.31,306.44 L390.94,305.99 L392.56,305.54 L394.18,305.1 L395.81,304.67 L397.43,304.25 L399.05,303.84 L400.68,303.44 L402.3,303.04 L403.92,302.66 L405.55,302.28 L407.17,301.91 L408.79,301.55 L410.42,301.2 L412.04,300.85 L413.66,300.52 L415.29,300.18 L416.91,299.86 L418.54,299.55 L420.16,299.24 L421.78,298.94 L423.41,298.64 L425.03,298.35 L426.65,298.07 L428.28,297.8 L429.9,297.53 L431.52,297.27 L433.15,297.01 L434.77,296.76 L436.39,296.52 L438.02,296.28 L439.64,296.05 L441.26,295.82 L442.89,295.6 L444.51,295.39 L446.14,295.18 L447.76,294.98 L449.38,294.78 L451.01,294.59 L452.63,294.4 L454.25,294.22 L455.88,294.04 L457.5,293.86 L459.12,293.7 L460.75,293.53 L462.37,293.37 L463.99,293.22 L465.62,293.07 L467.24,292.93 L468.86,292.78 L470.49,292.65 L472.11,292.52 L473.74,292.39 L475.36,292.26 L476.98,292.14 L478.61,292.03 L480.23,291.91 L481.85,291.81 L483.48,291.7 L485.1,291.6 L486.72,291.5 L488.35,291.41 L489.97,291.32 L491.59,291.23 L493.22,291.15 L494.84,291.07 L496.46,290.99 L498.09,290.92 L499.71,290.85 L501.34,290.78 L502.96,290.72 L504.58,290.66 L506.21,290.6 L507.83,290.54 L509.45,290.49 L511.08,290.44 L512.7,290.4 L512.7,338.4 Z" fill="#c20024"/>
<path d="M319.5,338.4 L321.12,336.45 L322.75,335.31 L324.37,334.19 L325.99,333.09 L327.62,332.01 L329.24,330.94 L330.86,329.89 L332.49,328.86 L334.11,327.84 L335.74,326.84 L337.36,325.85 L338.98,324.88 L340.61,323.92 L342.23,322.98 L343.85,322.06 L345.48,321.15 L347.1,320.25 L348.72,319.37 L350.35,318.5 L351.97,317.64 L353.59,316.8 L355.22,315.97 L356.84,315.16 L358.46,314.35 L360.09,313.56 L361.71,312.78 L363.34,312.02 L364.96,311.26 L366.58,310.52 L368.21,309.79 L369.83,309.07 L371.45,308.36 L373.08,307.67 L374.7,306.98 L376.32,306.3 L377.95,305.64 L379.57,304.98 L381.19,304.34 L382.82,303.7 L384.44,303.08 L386.06,302.46 L387.69,301.86 L389.31,301.26 L390.94,300.68 L392.56,300.1 L394.18,299.53 L395.81,298.97 L397.43,298.42 L399.05,297.87 L400.68,297.34 L402.3,296.81 L403.92,296.3 L405.55,295.78 L407.17,295.28 L408.79,294.79 L410.42,294.3 L412.04,293.82 L413.66,293.35 L415.29,292.88 L416.91,292.43 L418.54,291.98 L420.16,291.53 L421.78,291.09 L423.41,290.66 L425.03,290.24 L426.65,289.82 L428.28,289.41 L429.9,289.01 L431.52,288.61 L433.15,288.22 L434.77,287.83 L436.39,287.45 L438.02,287.07 L439.64,286.7 L441.26,286.34 L442.89,285.98 L444.51,285.63 L446.14,285.28 L447.76,284.94 L449.38,284.6 L451.01,284.27 L452.63,283.94 L454.25,283.62 L455.88,283.3 L457.5,282.99 L459.12,282.68 L460.75,282.38 L462.37,282.08 L463.99,281.79 L465.62,281.5 L467.24,281.21 L468.86,280.93 L470.49,280.65 L472.11,280.38 L473.74,280.11 L475.36,279.85 L476.98,279.59 L478.61,279.33 L480.23,279.08 L481.85,278.83 L483.48,278.58 L485.1,278.34 L486.72,278.1 L488.35,277.86 L489.97,277.63 L491.59,277.4 L493.22,277.18 L494.84,276.96 L496.46,276.74 L498.09,276.52 L499.71,276.31 L501.34,276.1 L502.96,275.9 L504.58,275.69 L506.21,275.49 L507.83,275.29 L509.45,275.1 L511.08,274.91 L512.7,274.72" fill="none" stroke="#000" stroke-opacity="0.5" stroke-width="0.65"/>
<path d="M319.5,338.4 L321.12,336.51 L322.75,335.41 L324.37,334.33 L325.99,333.26 L327.62,332.22 L329.24,331.19 L330.86,330.18 L332.49,329.18 L334.11,328.2 L335.74,327.24 L337.36,326.29 L338.98,325.36 L340.61,324.45 L342.23,323.55 L343.85,322.66 L345.48,321.79 L347.1,320.93 L348.72,320.09 L350.35,319.26 L351.97,318.45 L353.59,317.65 L355.22,316.86 L356.84,316.09 L358.46,315.33 L360.09,314.58 L361.71,313.84 L363.34,313.12 L364.96,312.41 L366.58,311.71 L368.21,311.02 L369.83,310.35 L371.45,309.68 L373.08,309.03 L374.7,308.39 L376.32,307.76 L377.95,307.14 L379.57,306.53 L381.19,305.93 L382.82,305.34 L384.44,304.76 L386.06,304.19 L387.69,303.63 L389.31,303.08 L390.94,302.53 L392.56,302 L394.18,301.48 L395.81,300.96 L397.43,300.46 L399.05,299.96 L400.68,299.47 L402.3,298.99 L403.92,298.52 L405.55,298.06 L407.17,297.6 L408.79,297.16 L410.42,296.71 L412.04,296.28 L413.66,295.86 L415.29,295.44 L416.91,295.03 L418.54,294.62 L420.16,294.23 L421.78,293.84 L423.41,293.46 L425.03,293.08 L426.65,292.71 L428.28,292.35 L429.9,291.99 L431.52,291.64 L433.15,291.29 L434.77,290.96 L436.39,290.62 L438.02,290.3 L439.64,289.98 L441.26,289.66 L442.89,289.35 L444.51,289.05 L446.14,288.75 L447.76,288.45 L449.38,288.16 L451.01,287.88 L452.63,287.6 L454.25,287.33 L455.88,287.06 L457.5,286.8 L459.12,286.54 L460.75,286.28 L462.37,286.03 L463.99,285.79 L465.62,285.55 L467.24,285.31 L468.86,285.08 L470.49,284.85 L472.11,284.63 L473.74,284.41 L475.36,284.19 L476.98,283.98 L478.61,283.77 L480.23,283.57 L481.85,283.37 L483.48,283.17 L485.1,282.98 L486.72,282.79 L488.35,282.6 L489.97,282.42 L491.59,282.24 L493.22,282.07 L494.84,281.9 L496.46,281.73 L498.09,281.56 L499.71,281.4 L501.34,281.24 L502.96,281.08 L504.58,280.93 L506.21,280.78 L507.83,280.63 L509.45,280.49 L511.08,280.34 L512.7,280.21" fill="none" stroke="#000" stroke-opacity="0.35" stroke-width="0.65"/>
<path d="M319.5,338.4 L321.12,336.56 L322.75,335.49 L324.37,334.43 L325.99,333.4 L327.62,332.38 L329.24,331.38 L330.86,330.4 L332.49,329.43 L334.11,328.48 L335.74,327.55 L337.36,326.63 L338.98,325.73 L340.61,324.85 L342.23,323.98 L343.85,323.12 L345.48,322.29 L347.1,321.46 L348.72,320.65 L350.35,319.86 L351.97,319.07 L353.59,318.31 L355.22,317.55 L356.84,316.81 L358.46,316.08 L360.09,315.37 L361.71,314.66 L363.34,313.97 L364.96,313.3 L366.58,312.63 L368.21,311.98 L369.83,311.33 L371.45,310.7 L373.08,310.08 L374.7,309.48 L376.32,308.88 L377.95,308.29 L379.57,307.72 L381.19,307.15 L382.82,306.6 L384.44,306.05 L386.06,305.52 L387.69,304.99 L389.31,304.47 L390.94,303.97 L392.56,303.47 L394.18,302.98 L395.81,302.5 L397.43,302.03 L399.05,301.57 L400.68,301.12 L402.3,300.68 L403.92,300.24 L405.55,299.81 L407.17,299.39 L408.79,298.98 L410.42,298.58 L412.04,298.18 L413.66,297.79 L415.29,297.41 L416.91,297.04 L418.54,296.67 L420.16,296.31 L421.78,295.96 L423.41,295.61 L425.03,295.27 L426.65,294.94 L428.28,294.61 L429.9,294.29 L431.52,293.98 L433.15,293.67 L434.77,293.37 L436.39,293.07 L438.02,292.78 L439.64,292.5 L441.26,292.22 L442.89,291.95 L444.51,291.68 L446.14,291.42 L447.76,291.16 L449.38,290.91 L451.01,290.67 L452.63,290.43 L454.25,290.19 L455.88,289.96 L457.5,289.73 L459.12,289.51 L460.75,289.3 L462.37,289.08 L463.99,288.88 L465.62,288.67 L467.24,288.47 L468.86,288.28 L470.49,288.09 L472.11,287.9 L473.74,287.72 L475.36,287.55 L476.98,287.37 L478.61,287.2 L480.23,287.04 L481.85,286.87 L483.48,286.72 L485.1,286.56 L486.72,286.41 L488.35,286.26 L489.97,286.12 L491.59,285.98 L493.22,285.84 L494.84,285.71 L496.46,285.58 L498.09,285.45 L499.71,285.32 L501.34,285.2 L502.96,285.09 L504.58,284.97 L506.21,284.86 L507.83,284.75 L509.45,284.64 L511.08,284.54 L512.7,284.44" fill="none" stroke="#000" stroke-opacity="0.35" stroke-width="0.65"/>
<path d="M319.5,338.4 L321.12,336.63 L322.75,335.59 L324.37,334.58 L325.99,333.58 L327.62,332.61 L329.24,331.65 L330.86,330.71 L332.49,329.78 L334.11,328.88 L335.74,327.99 L337.36,327.11 L338.98,326.26 L340.61,325.41 L342.23,324.59 L343.85,323.78 L345.48,322.98 L347.1,322.2 L348.72,321.44 L350.35,320.69 L351.97,319.95 L353.59,319.23 L355.22,318.52 L356.84,317.82 L358.46,317.14 L360.09,316.47 L361.71,315.82 L363.34,315.17 L364.96,314.54 L366.58,313.92 L368.21,313.32 L369.83,312.72 L371.45,312.14 L373.08,311.57 L374.7,311.01 L376.32,310.46 L377.95,309.92 L379.57,309.39 L381.19,308.88 L382.82,308.37 L384.44,307.87 L386.06,307.39 L387.69,306.91 L389.31,306.44 L390.94,305.99 L392.56,305.54 L394.18,305.1 L395.81,304.67 L397.43,304.25 L399.05,303.84 L400.68,303.44 L402.3,303.04 L403.92,302.66 L405.55,302.28 L407.17,301.91 L408.79,301.55 L410.42,301.2 L412.04,300.85 L413.66,300.52 L415.29,300.18 L416.91,299.86 L418.54,299.55 L420.16,299.24 L421.78,298.94 L423.41,298.64 L425.03,298.35 L426.65,298.07 L428.28,297.8 L429.9,297.53 L431.52,297.27 L433.15,297.01 L434.77,296.76 L436.39,296.52 L438.02,296.28 L439.64,296.05 L441.26,295.82 L442.89,295.6 L444.51,295.39 L446.14,295.18 L447.76,294.98 L449.38,294.78 L451.01,294.59 L452.63,294.4 L454.25,294.22 L455.88,294.04 L457.5,293.86 L459.12,293.7 L460.75,293.53 L462.37,293.37 L463.99,293.22 L465.62,293.07 L467.24,292.93 L468.86,292.78 L470.49,292.65 L472.11,292.52 L473.74,292.39 L475.36,292.26 L476.98,292.14 L478.61,292.03 L480.23,291.91 L481.85,291.81 L483.48,291.7 L485.1,291.6 L486.72,291.5 L488.35,291.41 L489.97,291.32 L491.59,291.23 L493.22,291.15 L494.84,291.07 L496.46,290.99 L498.09,290.92 L499.71,290.85 L501.34,290.78 L502.96,290.72 L504.58,290.66 L506.21,290.6 L507.83,290.54 L509.45,290.49 L511.08,290.44 L512.7,290.4" fill="none" stroke="#000" stroke-opacity="0.35" stroke-width="0.65"/>
<path d="M312.3,226.2 V345.4" fill="none" stroke="#1a1a1a" stroke-width="1.2"/>
<path d="M311.7,344.5 H520" fill="none" stroke="#1a1a1a" stroke-width="1.3"/>
<path d="M309.3,338.4 H312.3" stroke="#1a1a1a" stroke-width="1"/>
<text class="tk" x="305.3" y="341.5" font-size="8.8" fill="#222" text-anchor="end">0.0</text>
<path d="M309.3,317.18 H312.3" stroke="#1a1a1a" stroke-width="1"/>
<text class="tk" x="305.3" y="320.28" font-size="8.8" fill="#222" text-anchor="end">0.2</text>
<path d="M309.3,295.96 H312.3" stroke="#1a1a1a" stroke-width="1"/>
<text class="tk" x="305.3" y="299.06" font-size="8.8" fill="#222" text-anchor="end">0.4</text>
<path d="M309.3,274.74 H312.3" stroke="#1a1a1a" stroke-width="1"/>
<text class="tk" x="305.3" y="277.84" font-size="8.8" fill="#222" text-anchor="end">0.6</text>
<path d="M309.3,253.52 H312.3" stroke="#1a1a1a" stroke-width="1"/>
<text class="tk" x="305.3" y="256.62" font-size="8.8" fill="#222" text-anchor="end">0.8</text>
<path d="M309.3,232.3 H312.3" stroke="#1a1a1a" stroke-width="1"/>
<text class="tk" x="305.3" y="235.4" font-size="8.8" fill="#222" text-anchor="end">1.0</text>
<path d="M318.4,344.5 V348" stroke="#1a1a1a" stroke-width="1"/>
<text class="tk" x="318.4" y="359" font-size="8.8" fill="#222" text-anchor="middle">0</text>
<path d="M357.4,344.5 V348" stroke="#1a1a1a" stroke-width="1"/>
<text class="tk" x="357.4" y="359" font-size="8.8" fill="#222" text-anchor="middle">3</text>
<path d="M396.4,344.5 V348" stroke="#1a1a1a" stroke-width="1"/>
<text class="tk" x="396.4" y="359" font-size="8.8" fill="#222" text-anchor="middle">6</text>
<path d="M435.4,344.5 V348" stroke="#1a1a1a" stroke-width="1"/>
<text class="tk" x="435.4" y="359" font-size="8.8" fill="#222" text-anchor="middle">9</text>
<path d="M474.4,344.5 V348" stroke="#1a1a1a" stroke-width="1"/>
<text class="tk" x="474.4" y="359" font-size="8.8" fill="#222" text-anchor="middle">12</text>
<path d="M513.4,344.5 V348" stroke="#1a1a1a" stroke-width="1"/>
<text class="tk" x="513.4" y="359" font-size="8.8" fill="#222" text-anchor="middle">15</text>
<text class="tk" x="416.3" y="219.9" font-size="10.2" fill="#222" text-anchor="middle">HD-ASCT</text>
<text class="lt" x="269.3" y="207.2" font-size="12" font-weight="bold" fill="#000">D</text>
<text x="416.3" y="373.5" font-size="9.8" fill="#222" class="lb" text-anchor="middle" textLength="140.3" lengthAdjust="spacingAndGlyphs">Years since landmark (12m after diagnosis)</text>
<text transform="translate(286.9,285.4) rotate(-90)" x="0" y="0" font-size="9.8" fill="#222" class="ly" text-anchor="middle" textLength="110.7" lengthAdjust="spacingAndGlyphs">Standardized cumulative incidence</text>
<rect x="162.8" y="384.9" width="6.1" height="6" fill="#c20024" stroke="#000" stroke-opacity="0.3" stroke-width="0.5"/>
<text class="tk" x="172.8" y="390.4" font-size="8.4" fill="#222">MCL*</text>
<rect x="201.3" y="384.9" width="6.1" height="6" fill="#124b8b" stroke="#000" stroke-opacity="0.3" stroke-width="0.5"/>
<text class="tk" x="211" y="390.4" font-size="8.4" fill="#222">Other malignancy</text>
<rect x="287.6" y="384.9" width="6.1" height="6" fill="#36b130" stroke="#000" stroke-opacity="0.3" stroke-width="0.5"/>
<text class="tk" x="297.5" y="390.4" font-size="8.4" fill="#222">CVD</text>
<rect x="325.6" y="384.9" width="6.1" height="6" fill="#5f1b6b" stroke="#000" stroke-opacity="0.3" stroke-width="0.5"/>
<text class="tk" x="335.5" y="390.4" font-size="8.4" fill="#222">Other</text>
</svg></body></html>
